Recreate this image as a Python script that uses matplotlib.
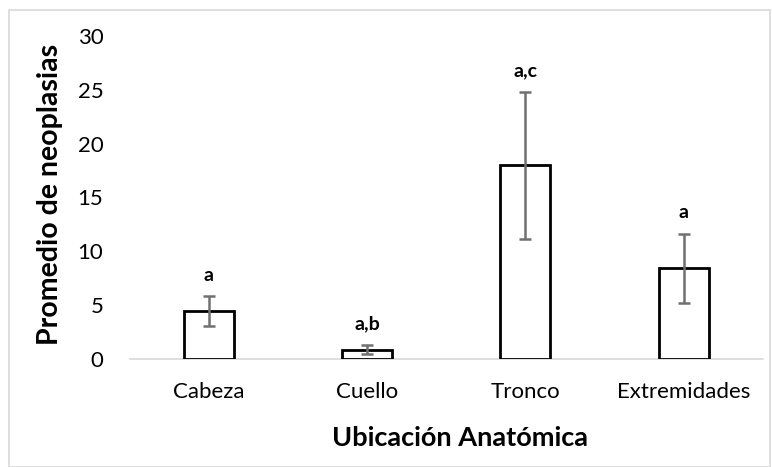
import matplotlib.pyplot as plt
from matplotlib.patches import Rectangle

categories = ["Cabeza", "Cuello", "Tronco", "Extremidades"]
means = [4.43, 0.85, 17.97, 8.4]
errors = [1.35, 0.43, 6.8, 3.2]
letters = ["a", "a,b", "a,c", "a"]
yticks = [0, 5, 10, 15, 20, 25, 30]

plt.rcParams['font.family'] = ['Lato', 'DejaVu Sans']

fig = plt.figure(figsize=(7.72, 4.67), dpi=100)
ax = fig.add_axes([0.168, 0.232, 0.820, 0.691])

x = list(range(len(categories)))
ax.bar(x, means, width=0.316, color='white', edgecolor='black', linewidth=2, zorder=3)
ax.errorbar(x, means, yerr=errors, fmt='none', ecolor='#707070', elinewidth=1.8,
            capsize=4.5, capthick=1.8, zorder=4)

for xi, m, e, lab in zip(x, means, errors, letters):
    ax.annotate(lab, (xi, m + e), xytext=(0, 9), textcoords='offset points',
                ha='center', va='bottom', fontsize=14, fontweight='bold')

ax.set_xlim(-0.5, len(categories) - 0.5)
ax.set_ylim(0, 30)
ax.set_yticks(yticks)
ax.set_xticks(x)
ax.set_xticklabels(categories)
ax.tick_params(axis='both', length=0, labelsize=16)
ax.tick_params(axis='y', pad=19)
ax.tick_params(axis='x', pad=17)

for s in ['top', 'right', 'left']:
    ax.spines[s].set_visible(False)
ax.spines['bottom'].set_color('#d9d9d9')
ax.spines['bottom'].set_linewidth(1.2)

fig.text(0.065, 0.583, "Promedio de neoplasias", rotation=90, ha='center', va='center',
         fontsize=20.5, fontweight='bold')
fig.text(0.596, 0.062, "Ubicación Anatómica", ha='center', va='center',
         fontsize=19.5, fontweight='bold')

fig.patches.append(Rectangle((0.012, 0.0), 0.985, 0.978, transform=fig.transFigure,
                             fill=False, edgecolor='#d9d9d9', linewidth=1.2))

fig.savefig("out.png", dpi=100)
